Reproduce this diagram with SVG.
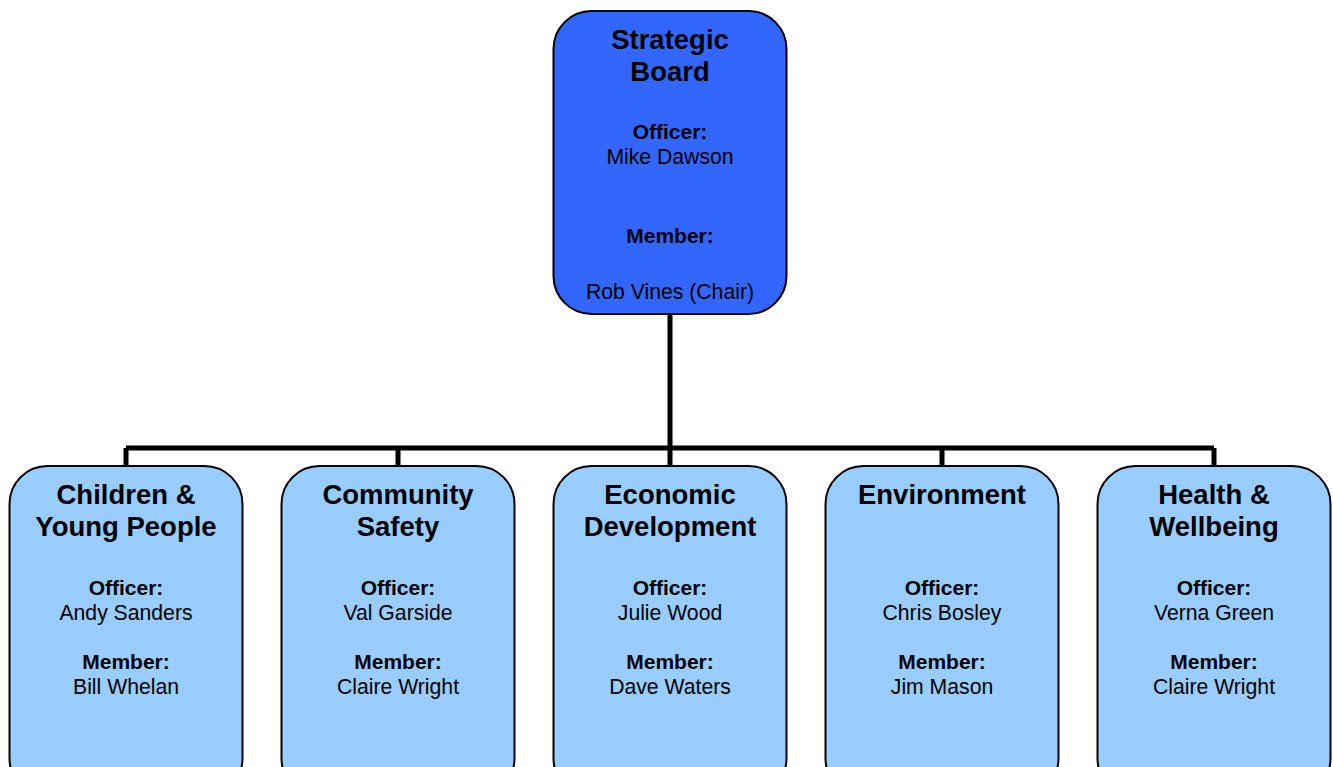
<svg xmlns="http://www.w3.org/2000/svg" width="1333" height="767" viewBox="0 0 1333 767">
<style>
.box{stroke:#000;stroke-width:2}
.top{fill:#3366FF}
.sub{fill:#99CCFF}
text{font-family:"Liberation Sans",Arial,sans-serif;fill:#000;text-anchor:middle}
.t{font-size:27.5px;font-weight:bold}
.l{font-size:21px;font-weight:bold}
.n{font-size:21.2px}
.c{fill:none;stroke:#000;stroke-width:5}
</style>
<rect width="1333" height="767" fill="#fff"/>
<g id="connectors">
<path class="c" d="M670 314V448M126 448H1214M126 448V466M398 448V466M670 448V466M942 448V466M1214 448V466"/>
</g>
<g id="strategic-board">
<rect class="box top" x="553.5" y="11" width="233" height="303" rx="38"/>
<text class="t" x="670" y="49">Strategic</text>
<text class="t" x="670" y="81">Board</text>
<text class="l" x="670" y="139">Officer:</text>
<text class="n" x="670" y="164">Mike Dawson</text>
<text class="l" x="670" y="243">Member:</text>
<text class="n" x="670" y="299">Rob Vines (Chair)</text>
</g>
<g id="children">
<rect class="box sub" x="9.5" y="466" width="233" height="330" rx="38"/>
<text class="t" x="126" y="504">Children &amp;</text>
<text class="t" x="126" y="536">Young People</text>
<text class="l" x="126" y="595">Officer:</text>
<text class="n" x="126" y="620">Andy Sanders</text>
<text class="l" x="126" y="669">Member:</text>
<text class="n" x="126" y="694">Bill Whelan</text>
</g>
<g id="community-safety">
<rect class="box sub" x="281.5" y="466" width="233" height="330" rx="38"/>
<text class="t" x="398" y="504">Community</text>
<text class="t" x="398" y="536">Safety</text>
<text class="l" x="398" y="595">Officer:</text>
<text class="n" x="398" y="620">Val Garside</text>
<text class="l" x="398" y="669">Member:</text>
<text class="n" x="398" y="694">Claire Wright</text>
</g>
<g id="economic-development">
<rect class="box sub" x="553.5" y="466" width="233" height="330" rx="38"/>
<text class="t" x="670" y="504">Economic</text>
<text class="t" x="670" y="536">Development</text>
<text class="l" x="670" y="595">Officer:</text>
<text class="n" x="670" y="620">Julie Wood</text>
<text class="l" x="670" y="669">Member:</text>
<text class="n" x="670" y="694">Dave Waters</text>
</g>
<g id="environment">
<rect class="box sub" x="825.5" y="466" width="233" height="330" rx="38"/>
<text class="t" x="942" y="504">Environment</text>
<text class="l" x="942" y="595">Officer:</text>
<text class="n" x="942" y="620">Chris Bosley</text>
<text class="l" x="942" y="669">Member:</text>
<text class="n" x="942" y="694">Jim Mason</text>
</g>
<g id="health-wellbeing">
<rect class="box sub" x="1097.5" y="466" width="233" height="330" rx="38"/>
<text class="t" x="1214" y="504">Health &amp;</text>
<text class="t" x="1214" y="536">Wellbeing</text>
<text class="l" x="1214" y="595">Officer:</text>
<text class="n" x="1214" y="620">Verna Green</text>
<text class="l" x="1214" y="669">Member:</text>
<text class="n" x="1214" y="694">Claire Wright</text>
</g>
</svg>
